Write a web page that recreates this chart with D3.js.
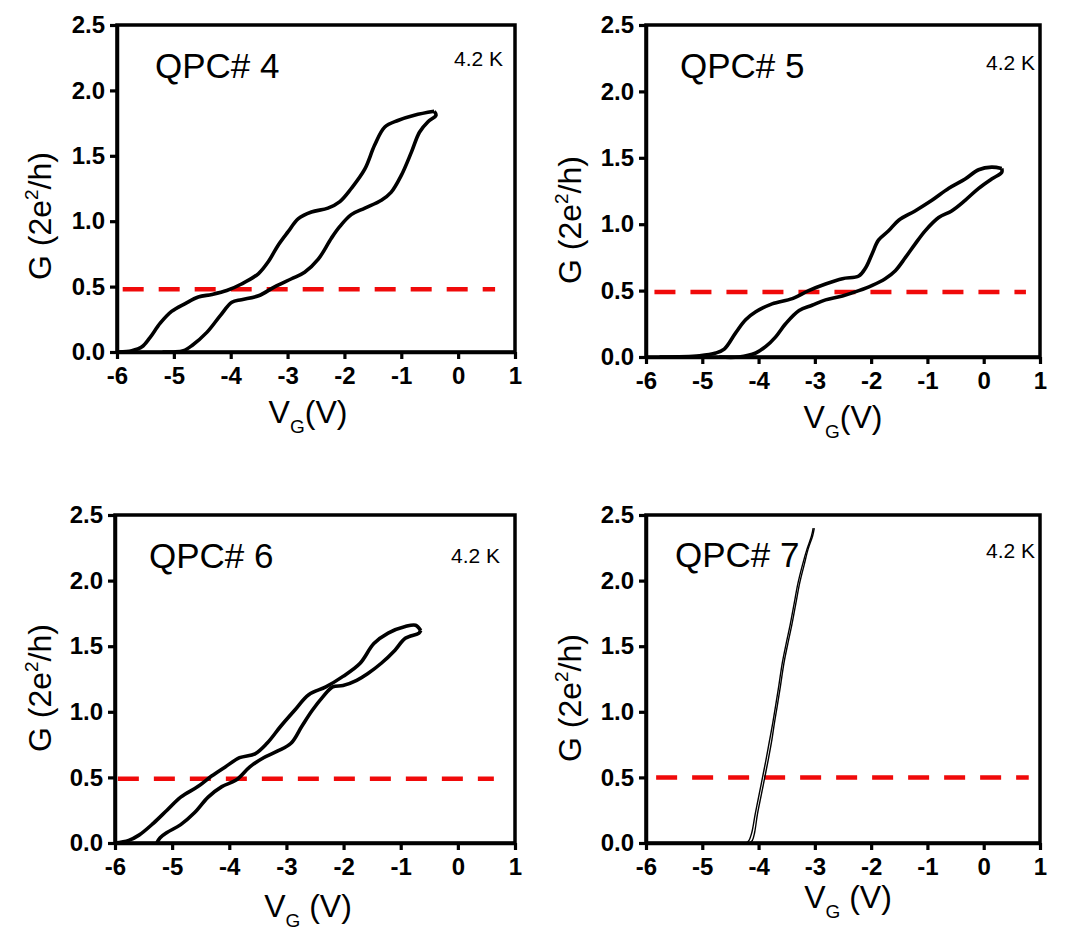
<!DOCTYPE html>
<html>
<head>
<meta charset="utf-8">
<script src="https://cdn.jsdelivr.net/npm/d3@7"></script>
<style>
  body { margin: 0; background: #fff; }
  svg { display: block; }
  text { font-family: Arial, "Liberation Sans", sans-serif; fill: #000; }
</style>
</head>
<body>
<div id="chart"></div>
<script>
// axis ticks shared by all four panels
var xTicks = [-6, -5, -4, -3, -2, -1, 0, 1];
var yTicks = [0, 0.5, 1.0, 1.5, 2.0, 2.5];

var panelNames = ["QPC# 4", "QPC# 5", "QPC# 6", "QPC# 7"];
var tempLabel = "4.2 K";
// level of the red dashed line (in 2e^2/h) and its V_G extent
var halfLevels = [0.48, 0.49, 0.49, 0.50];
var dashRanges = [[-5.9, 0.65], [-5.85, 0.75], [-5.95, 0.63], [-5.82, 0.8]];

// QPC# 4 : [V_G, G] forward sweep then back sweep
var qpc4Up = [[-5.97,0],[-5.74,0.01],[-5.56,0.04],[-5.42,0.11],[-5.24,0.22],[-5.04,0.31],
  [-4.80,0.37],[-4.57,0.42],[-4.33,0.44],[-4.07,0.47],[-3.81,0.52],[-3.51,0.60],[-3.34,0.69],
  [-3.16,0.82],[-2.99,0.92],[-2.81,1.02],[-2.58,1.07],[-2.29,1.10],[-2.08,1.15],[-1.88,1.25],
  [-1.64,1.40],[-1.47,1.58],[-1.29,1.72],[-1.06,1.77],[-0.77,1.81],[-0.42,1.84]];
var qpc4Down = [[-0.42,1.84],[-0.39,1.81],[-0.53,1.76],[-0.68,1.68],[-0.82,1.53],[-1.0,1.35],
  [-1.18,1.22],[-1.35,1.16],[-1.64,1.10],[-1.88,1.05],[-2.08,0.96],[-2.23,0.87],[-2.46,0.71],
  [-2.70,0.61],[-2.93,0.56],[-3.22,0.50],[-3.51,0.43],[-3.81,0.40],[-3.98,0.38],[-4.18,0.28],
  [-4.42,0.15],[-4.68,0.05],[-4.83,0.01],[-5.0,0],[-5.2,0]];

// QPC# 5
var qpc5Up = [[-5.76,0],[-5.05,0.01],[-4.76,0.03],[-4.61,0.06],[-4.41,0.18],[-4.23,0.28],
  [-4.05,0.34],[-3.76,0.40],[-3.40,0.44],[-3.11,0.50],[-2.81,0.55],[-2.51,0.59],[-2.22,0.61],
  [-2.10,0.67],[-1.98,0.78],[-1.87,0.88],[-1.69,0.95],[-1.51,1.03],[-1.22,1.10],[-0.92,1.18],
  [-0.62,1.27],[-0.33,1.34],[-0.09,1.41],[0.14,1.43],[0.32,1.42]];
var qpc5Down = [[0.32,1.42],[0.32,1.39],[0.14,1.34],[-0.09,1.27],[-0.33,1.18],[-0.57,1.10],
  [-0.80,1.05],[-1.04,0.95],[-1.22,0.85],[-1.39,0.75],[-1.57,0.65],[-1.75,0.59],[-1.98,0.54],
  [-2.22,0.50],[-2.51,0.46],[-2.81,0.43],[-3.05,0.39],[-3.28,0.35],[-3.52,0.25],[-3.70,0.15],
  [-3.87,0.08],[-4.05,0.03],[-4.35,0],[-4.70,0]];

// QPC# 6
var qpc6Up = [[-6.0,0.0],[-5.76,0.02],[-5.58,0.06],[-5.33,0.15],[-5.09,0.25],[-4.85,0.35],
  [-4.55,0.43],[-4.31,0.51],[-4.07,0.58],[-3.82,0.65],[-3.55,0.68],[-3.34,0.76],[-3.10,0.89],
  [-2.86,1.01],[-2.61,1.13],[-2.31,1.19],[-2.01,1.27],[-1.71,1.37],[-1.47,1.52],[-1.22,1.60],
  [-0.92,1.65],[-0.74,1.66],[-0.65,1.62]];
var qpc6Down = [[-0.65,1.62],[-0.68,1.60],[-0.92,1.56],[-1.10,1.47],[-1.34,1.37],[-1.58,1.29],
  [-1.77,1.24],[-2.01,1.20],[-2.19,1.19],[-2.37,1.11],[-2.55,1.01],[-2.73,0.89],[-2.92,0.76],
  [-3.16,0.70],[-3.40,0.65],[-3.64,0.58],[-3.88,0.48],[-4.13,0.43],[-4.37,0.35],[-4.61,0.23],
  [-4.85,0.14],[-5.09,0.08],[-5.21,0.04],[-5.27,0]];

// QPC# 7 (two sweeps almost on top of each other)
var qpc7Up = [[-4.22,0],[-4.17,0.02],[-4.12,0.08],[-4.06,0.22],[-3.99,0.37],[-3.93,0.50],
  [-3.87,0.63],[-3.81,0.77],[-3.75,0.91],[-3.70,1.04],[-3.64,1.20],[-3.58,1.37],[-3.51,1.52],
  [-3.44,1.66],[-3.37,1.82],[-3.30,1.98],[-3.22,2.12],[-3.14,2.24],[-3.06,2.34],[-3.03,2.40]];
var qpc7Down = [[-4.16,0],[-4.11,0.02],[-4.07,0.08],[-4.02,0.22],[-3.95,0.37],[-3.89,0.50],
  [-3.83,0.63],[-3.77,0.77],[-3.72,0.91],[-3.67,1.04],[-3.61,1.20],[-3.55,1.37],[-3.48,1.52],
  [-3.41,1.66],[-3.34,1.82],[-3.27,1.98],[-3.19,2.12],[-3.12,2.24],[-3.04,2.34],[-3.01,2.40]];

var sweeps = [[qpc4Up, qpc4Down], [qpc5Up, qpc5Down], [qpc6Up, qpc6Down], [qpc7Up, qpc7Down]];

// pixel layout of each panel
var layout = [
  {x0: 117, x1: 515, top: 25,  bot: 352, gap: "", lw: 3.6, name: [155, 78], temp: [503, 66], xl: [308, 423], yl: [51, 216]},
  {x0: 646, x1: 1040, top: 25, bot: 357, gap: "", lw: 3.6, name: [680, 78], temp: [1035, 70], xl: [843, 428], yl: [581, 220]},
  {x0: 115, x1: 515, top: 515, bot: 843, gap: " ", lw: 3.6, name: [149, 568], temp: [500, 563], xl: [308, 917], yl: [51, 688]},
  {x0: 646, x1: 1040, top: 515, bot: 843, gap: " ", lw: 1.4, name: [675, 567], temp: [1035, 558], xl: [848, 908], yl: [581, 698]}
];

var svg = d3.select("#chart")
  .append("svg")
    .attr("width", 1073)
    .attr("height", 930);

layout.forEach(function(p, i) {
  var x = d3.scaleLinear().domain([-6, 1]).range([p.x0, p.x1]);
  var y = d3.scaleLinear().domain([0, 2.5]).range([p.bot, p.top]);
  var g = svg.append("g");

  // red dashed line
  g.append("line")
    .attr("x1", x(dashRanges[i][0]))
    .attr("x2", x(dashRanges[i][1]))
    .attr("y1", y(halfLevels[i]))
    .attr("y2", y(halfLevels[i]))
    .attr("stroke", "#f00a0a")
    .attr("stroke-width", 4.5)
    .attr("stroke-dasharray", "21,15");

  // the conductance sweeps
  var line = d3.line()
    .x(function(d) { return x(d[0]); })
    .y(function(d) { return y(d[1]); })
    .curve(d3.curveCatmullRom);
  sweeps[i].forEach(function(s) {
    g.append("path")
      .datum(s)
      .attr("d", line)
      .attr("fill", "none")
      .attr("stroke", "#000")
      .attr("stroke-width", p.lw)
      .attr("stroke-linejoin", "round");
  });

  // frame
  g.append("rect")
    .attr("x", p.x0).attr("y", p.top)
    .attr("width", p.x1 - p.x0).attr("height", p.bot - p.top)
    .attr("fill", "none")
    .attr("stroke", "#000")
    .attr("stroke-width", 3.5);

  // axes
  var xAxis = g.append("g")
    .attr("transform", "translate(0," + p.bot + ")")
    .call(d3.axisBottom(x).tickValues(xTicks).tickSize(7).tickSizeOuter(0).tickPadding(8)
      .tickFormat(function(d) { return String(d); }));
  var yAxis = g.append("g")
    .attr("transform", "translate(" + p.x0 + ",0)")
    .call(d3.axisLeft(y).tickValues(yTicks).tickSize(7).tickSizeOuter(0).tickPadding(5)
      .tickFormat(d3.format(".1f")));
  [xAxis, yAxis].forEach(function(a) {
    a.select(".domain").attr("stroke-width", 3.5);
    a.selectAll(".tick line").attr("stroke-width", 3.2);
    a.selectAll(".tick text")
      .style("font-family", "Arial, 'Liberation Sans', sans-serif")
      .style("font-size", "24px")
      .style("font-weight", "bold")
      .attr("fill", "#000");
  });

  // panel name and temperature
  g.append("text")
    .attr("x", p.name[0]).attr("y", p.name[1])
    .style("font-size", "35px")
    .text(panelNames[i]);
  g.append("text")
    .attr("x", p.temp[0]).attr("y", p.temp[1])
    .attr("text-anchor", "end")
    .style("font-size", "21px")
    .text(tempLabel);

  // x label V_G(V)
  var xl = g.append("text")
    .attr("x", p.xl[0]).attr("y", p.xl[1])
    .attr("text-anchor", "middle")
    .style("font-size", "32px");
  xl.append("tspan").text("V");
  xl.append("tspan").attr("dy", 10).style("font-size", "19px").text("G");
  xl.append("tspan").attr("dy", -10).text(p.gap + "(V)");

  // y label G (2e^2/h)
  var yl = g.append("text")
    .attr("transform", "translate(" + p.yl[0] + "," + p.yl[1] + ")rotate(-90)")
    .attr("text-anchor", "middle")
    .style("font-size", "32px");
  yl.append("tspan").text("G (2e");
  yl.append("tspan").attr("dy", -13).style("font-size", "19px").text("2");
  yl.append("tspan").attr("dy", 13).text("/h)");
});
</script>
</body>
</html>
